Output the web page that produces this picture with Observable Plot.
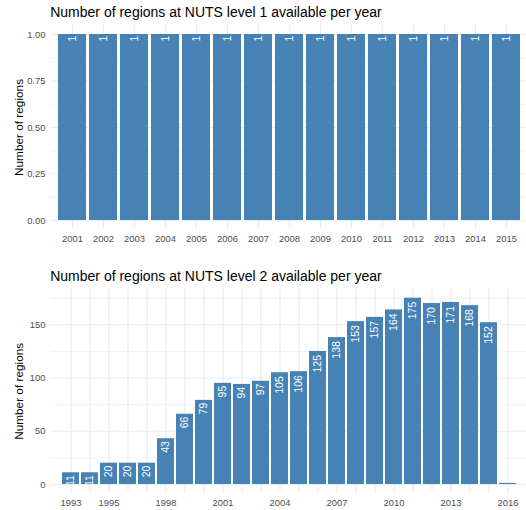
<!DOCTYPE html>
<html>
<head>
<meta charset="utf-8">
<script src="https://cdn.jsdelivr.net/npm/d3@7"></script>
<script src="https://cdn.jsdelivr.net/npm/@observablehq/plot@0.6"></script>
<style>
html, body { margin: 0; padding: 0; background: #fff; overflow: hidden; }
#chart svg { display: block; }
</style>
</head>
<body>
<div id="chart"></div>
<script>
const yAxisTitle = "Number of regions";

const nuts1Title = "Number of regions at NUTS level 1 available per year";
const nuts1Years = [2001, 2002, 2003, 2004, 2005, 2006, 2007, 2008, 2009, 2010, 2011, 2012, 2013, 2014, 2015];
const nuts1Counts = [1, 1, 1, 1, 1, 1, 1, 1, 1, 1, 1, 1, 1, 1, 1];
const nuts1XTicks = [2001, 2002, 2003, 2004, 2005, 2006, 2007, 2008, 2009, 2010, 2011, 2012, 2013, 2014, 2015];
const nuts1YTicks = [0, 0.25, 0.5, 0.75, 1];
const nuts1YMinor = [0.125, 0.375, 0.625, 0.875];

const nuts2Title = "Number of regions at NUTS level 2 available per year";
const nuts2Years = [1993, 1994, 1995, 1996, 1997, 1998, 1999, 2000, 2001, 2002, 2003, 2004, 2005, 2006, 2007, 2008, 2009, 2010, 2011, 2012, 2013, 2014, 2015, 2016];
const nuts2Counts = [11, 11, 20, 20, 20, 43, 66, 79, 95, 94, 97, 105, 106, 125, 138, 153, 157, 164, 175, 170, 171, 168, 152, 1];
const nuts2XTicks = [1993, 1995, 1998, 2001, 2004, 2007, 2010, 2013, 2016];
const nuts2YTicks = [0, 50, 100, 150];
const nuts2YMinor = [25, 75, 125, 175];

const FONT = "'Liberation Sans', Arial, Helvetica, sans-serif";

function panel({title, years, counts, xTicks, yTicks, yMinor, yFormat, height, top, bottom, titleDy}) {
  const data = years.map((year, i) => ({year, count: counts[i]}));
  const maxV = d3.max(counts);
  const pad = maxV * 0.05;
  const labelMarks = [1, 2, 3].map((n) =>
    Plot.text(data, {
      filter: (d) => String(d.count).length === n,
      x: "year",
      y: "count",
      text: (d) => String(d.count),
      rotate: -90,
      textAnchor: "end",
      dy: 1.17 * n,
      fill: "white",
      fontSize: 10.5
    })
  );
  return Plot.plot({
    width: 526,
    height,
    marginTop: top,
    marginBottom: height - bottom,
    marginLeft: 50.3,
    marginRight: 0,
    style: {fontFamily: FONT, fontSize: "9.4px", color: "#4d4d4d", background: "#fff"},
    x: {type: "band", domain: years, range: [50.3, 528.2], paddingInner: 0.1, paddingOuter: 0.15, label: null},
    y: {domain: [-pad, maxV + pad], label: null},
    marks: [
      Plot.ruleY(yMinor, {stroke: "#ebebeb", strokeWidth: 0.6}),
      Plot.ruleY(yTicks, {stroke: "#ebebeb", strokeWidth: 1.1}),
      Plot.ruleX(years, {stroke: "#ebebeb", strokeWidth: 1.2}),
      Plot.barY(data, {x: "year", y: "count", fill: "steelblue"}),
      ...labelMarks,
      Plot.axisX(xTicks, {tickSize: 0, tickPadding: 5.5, fontSize: 9.4, tickFormat: (d) => String(d), label: null}),
      Plot.axisY(yTicks, {tickSize: 0, tickPadding: 5.4, fontSize: 9.4, tickFormat: yFormat, label: null}),
      Plot.text([yAxisTitle], {frameAnchor: "left", textAnchor: "middle", lineAnchor: "middle", rotate: -90, dx: -32, fill: "black", fontSize: 11.8}),
      Plot.text([title], {frameAnchor: "top-left", textAnchor: "start", lineAnchor: "bottom", dx: -0.6, dy: titleDy, fill: "black", fontSize: 14})
    ]
  });
}

const chart = document.getElementById("chart");
chart.append(panel({
  title: nuts1Title,
  years: nuts1Years,
  counts: nuts1Counts,
  xTicks: nuts1XTicks,
  yTicks: nuts1YTicks,
  yMinor: nuts1YMinor,
  yFormat: (d) => d.toFixed(2),
  height: 250,
  top: 24.7,
  bottom: 229.3,
  titleDy: -8
}));
chart.append(panel({
  title: nuts2Title,
  years: nuts2Years,
  counts: nuts2Counts,
  xTicks: nuts2XTicks,
  yTicks: nuts2YTicks,
  yMinor: nuts2YMinor,
  yFormat: (d) => String(d),
  height: 260,
  top: 38.4,
  bottom: 243.3,
  titleDy: -8.4
}));
</script>
</body>
</html>
